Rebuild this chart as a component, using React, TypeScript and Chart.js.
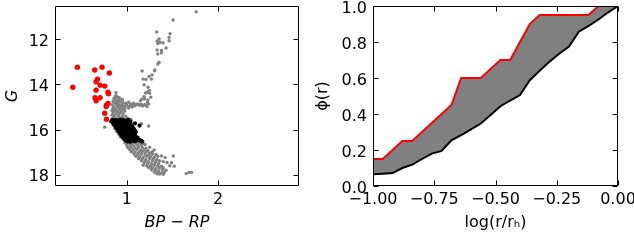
import React, { useEffect, useRef } from 'react';
import { Chart, registerables } from 'chart.js';

Chart.register(...registerables);

// ---------- Left panel: colour-magnitude diagram ----------
const cmdXTicks = [1, 2];
const cmdYTicks = [12, 14, 16, 18];

const redStars: number[][] = [
  [0.46, 13.23], [0.41, 14.12], [0.65, 13.36], [0.73, 13.23], [0.81, 13.49],
  [0.68, 13.76], [0.665, 13.88], [0.71, 14.03], [0.76, 14.07], [0.665, 14.25],
  [0.795, 14.34], [0.8, 14.41], [0.653, 14.59], [0.708, 14.59], [0.665, 14.72],
  [0.795, 14.84], [0.778, 14.92], [0.775, 14.98], [0.759, 15.27], [0.778, 15.54],
];

const blackStars: number[][] = [
  [0.84, 15.58], [0.87, 15.57], [0.9, 15.59], [0.93, 15.56], [0.96, 15.58], [0.99, 15.6], [1.02, 15.57],
  [0.83, 15.64], [0.86, 15.65], [0.89, 15.63], [0.92, 15.66], [0.95, 15.64], [0.98, 15.65], [1.01, 15.63], [1.04, 15.66],
  [0.85, 15.7], [0.88, 15.71], [0.91, 15.69], [0.94, 15.72], [0.97, 15.7], [1.0, 15.71], [1.03, 15.69], [1.09, 15.72],
  [0.86, 15.76], [0.89, 15.77], [0.92, 15.75], [0.95, 15.78], [0.98, 15.76], [1.01, 15.77], [1.04, 15.75], [1.14, 15.82],
  [0.87, 15.82], [0.9, 15.83], [0.93, 15.81], [0.96, 15.84], [0.99, 15.82], [1.02, 15.83], [1.05, 15.81],
  [0.88, 15.88], [0.91, 15.89], [0.94, 15.87], [0.97, 15.9], [1.0, 15.88], [1.03, 15.89], [1.06, 15.87],
  [0.89, 15.94], [0.92, 15.95], [0.95, 15.93], [0.98, 15.96], [1.01, 15.94], [1.04, 15.95], [1.07, 15.93],
  [0.9, 16.0], [0.93, 16.01], [0.96, 15.99], [0.99, 16.02], [1.02, 16.0], [1.05, 16.01], [1.08, 15.99],
  [0.91, 16.06], [0.94, 16.07], [0.97, 16.05], [1.0, 16.08], [1.03, 16.06], [1.06, 16.07], [1.09, 16.05],
  [0.92, 16.12], [0.95, 16.13], [0.98, 16.11], [1.01, 16.14], [1.04, 16.12], [1.07, 16.13], [1.1, 16.11],
  [0.93, 16.18], [0.96, 16.19], [0.99, 16.17], [1.02, 16.2], [1.05, 16.18], [1.08, 16.19],
  [0.94, 16.24], [0.97, 16.25], [1.0, 16.23], [1.03, 16.26], [1.06, 16.24], [1.09, 16.25],
  [0.95, 16.3], [0.98, 16.31], [1.01, 16.29], [1.04, 16.32], [1.07, 16.3], [1.1, 16.31],
  [0.96, 16.36], [0.99, 16.37], [1.02, 16.35], [1.05, 16.38], [1.08, 16.36], [1.12, 16.37],
  [0.97, 16.42], [1.0, 16.43], [1.03, 16.41], [1.06, 16.44], [1.1, 16.42], [1.14, 16.45],
  [0.99, 16.48], [1.02, 16.49], [1.05, 16.47], [1.08, 16.5], [1.12, 16.48], [1.16, 16.5],
  [1.01, 16.53], [1.04, 16.54], [1.09, 16.52], [1.17, 16.53],
];

const grayStars: number[][] = [
  // giant branch
  [1.759, 10.78], [1.507, 11.14], [1.329, 11.67], [1.474, 11.75], [1.463, 11.91], [1.463, 12.06],
  [1.332, 12.07], [1.354, 11.98], [1.365, 12.13], [1.398, 12.16], [1.34, 12.18], [1.43, 12.38],
  [1.332, 12.47], [1.38, 12.49], [1.34, 12.65], [1.38, 12.6], [1.354, 13.02], [1.34, 13.09],
  [1.307, 13.36], [1.305, 13.39], [1.168, 13.4], [1.277, 13.58], [1.244, 13.64], [1.27, 13.76],
  [1.179, 13.76], [1.21, 13.78], [1.19, 14.01], [1.233, 14.12], [1.248, 14.26], [1.226, 14.33],
  [1.25, 14.39], [1.205, 14.38], [1.263, 14.56], [1.233, 14.68], [1.197, 14.64], [1.226, 14.78],
  [1.19, 14.54], [1.168, 14.65], [1.15, 14.72],
  // subgiant branch
  [1.222, 14.98], [1.197, 14.89], [1.175, 14.95], [1.142, 14.92], [1.12, 14.86], [1.099, 14.89],
  [1.073, 14.83], [1.044, 14.87], [1.022, 14.79], [0.993, 14.83], [0.971, 14.95], [0.953, 14.72],
  [0.935, 14.98], [0.913, 14.68], [0.898, 14.83], [0.883, 14.36], [0.872, 14.56], [1.0, 14.92],
  [1.03, 14.96], [1.06, 14.91], [1.09, 14.94], [1.13, 14.9], [1.16, 14.88], [1.21, 14.91],
  [1.24, 14.86], [0.98, 15.05], [1.02, 15.04], [1.06, 15.0],
  // turn-off column
  [0.88, 14.5], [0.9, 14.55], [0.86, 14.62], [0.92, 14.6], [0.88, 14.68], [0.95, 14.66],
  [0.85, 14.75], [0.9, 14.74], [0.93, 14.78], [0.87, 14.82], [0.96, 14.82], [0.84, 14.9],
  [0.89, 14.9], [0.92, 14.93], [0.95, 14.9], [0.86, 14.98], [0.9, 15.0], [0.94, 15.02],
  [0.97, 14.98], [0.85, 15.06], [0.88, 15.08], [0.92, 15.1], [0.96, 15.1], [0.84, 15.15],
  [0.87, 15.18], [0.9, 15.2], [0.94, 15.2], [0.98, 15.18], [0.85, 15.26], [0.89, 15.28],
  [0.92, 15.3], [0.96, 15.3], [0.84, 15.36], [0.87, 15.38], [0.91, 15.4], [0.95, 15.42],
  [0.99, 15.4], [0.85, 15.46], [0.89, 15.5], [0.93, 15.5], [0.97, 15.52], [1.01, 15.5],
  [1.04, 15.55], [0.86, 15.56], [1.05, 15.57],
  // edges of the black clump and outliers
  [0.85, 15.8], [0.87, 15.95], [0.89, 16.08], [0.91, 16.2], [0.93, 16.32], [0.759, 15.89],
  [1.24, 15.84], [1.16, 15.74],
  // lower main sequence
  [0.98, 16.58], [1.02, 16.6], [1.06, 16.62], [1.1, 16.6], [1.14, 16.58], [1.18, 16.62],
  [1.0, 16.68], [1.04, 16.7], [1.08, 16.72], [1.12, 16.7], [1.16, 16.68], [1.2, 16.66],
  [1.01, 16.78], [1.05, 16.8], [1.09, 16.82], [1.13, 16.78], [1.17, 16.8], [1.21, 16.82],
  [1.25, 16.78], [1.03, 16.88], [1.07, 16.9], [1.11, 16.88], [1.15, 16.92], [1.19, 16.9],
  [1.23, 16.92], [1.3, 16.9], [1.05, 16.98], [1.09, 17.0], [1.13, 17.02], [1.17, 16.98],
  [1.21, 17.0], [1.25, 17.03], [1.28, 16.98], [1.08, 17.08], [1.12, 17.1], [1.16, 17.08],
  [1.2, 17.1], [1.24, 17.12], [1.28, 17.08], [1.32, 17.1], [1.1, 17.18], [1.14, 17.2],
  [1.18, 17.22], [1.22, 17.18], [1.26, 17.2], [1.3, 17.22], [1.34, 17.18], [1.38, 17.17],
  [1.42, 17.24], [1.51, 17.17], [1.13, 17.28], [1.17, 17.3], [1.21, 17.32], [1.25, 17.28],
  [1.29, 17.3], [1.33, 17.32], [1.16, 17.38], [1.2, 17.4], [1.24, 17.42], [1.28, 17.38],
  [1.32, 17.4], [1.36, 17.38], [1.4, 17.42], [1.44, 17.46], [1.49, 17.47], [1.19, 17.48],
  [1.23, 17.5], [1.27, 17.52], [1.31, 17.48], [1.35, 17.5], [1.18, 17.58], [1.22, 17.6],
  [1.26, 17.62], [1.3, 17.58], [1.34, 17.6], [1.38, 17.62], [1.47, 17.6], [1.52, 17.62],
  [1.24, 17.68], [1.28, 17.7], [1.32, 17.72], [1.36, 17.68], [1.4, 17.7], [1.27, 17.78],
  [1.31, 17.8], [1.35, 17.82], [1.39, 17.78], [1.43, 17.8], [1.3, 17.88], [1.34, 17.9],
  [1.38, 17.92], [1.41, 17.9], [1.36, 17.97], [1.4, 17.98], [1.33, 17.96],
  [1.65, 17.95], [1.68, 17.9], [1.71, 17.9],
];

// ---------- Right panel: cumulative radial distributions ----------
const logR = [
  -1.0, -0.96, -0.92, -0.88, -0.84, -0.8, -0.76, -0.72, -0.68, -0.64, -0.6, -0.56, -0.52,
  -0.48, -0.44, -0.4, -0.36, -0.32, -0.28, -0.24, -0.2, -0.16, -0.12, -0.08, -0.04, 0.0,
];
const phiRed = [
  0.15, 0.15, 0.2, 0.25, 0.25, 0.3, 0.35, 0.4, 0.45, 0.6, 0.6, 0.6, 0.65,
  0.7, 0.7, 0.8, 0.9, 0.95, 0.95, 0.95, 0.95, 0.95, 0.95, 1.0, 1.0, 1.0,
];
const phiBlack = [
  0.065, 0.068, 0.072, 0.1, 0.119, 0.15, 0.18, 0.195, 0.254, 0.282, 0.315, 0.347, 0.395,
  0.443, 0.475, 0.505, 0.588, 0.64, 0.69, 0.735, 0.775, 0.857, 0.889, 0.925, 0.965, 1.0,
];
const phiXTicks = [-1.0, -0.75, -0.5, -0.25, 0.0];
const phiYTicks = [0.0, 0.2, 0.4, 0.6, 0.8, 1.0];

const FONT = 'DejaVu Sans';
const tickFont = { family: FONT, size: 16 };

const minus = (s: string) => s.replace('-', '\u2212');

function framePlugin(xTicks: number[], yTicks: number[]) {
  return {
    id: 'frame',
    afterDatasetsDraw(chart: any) {
      const { ctx, chartArea: a } = chart;
      const sx = chart.scales.x;
      const sy = chart.scales.y;
      const L = Math.round(a.left) + 0.5;
      const R = Math.round(a.right) - 0.5;
      const T = Math.round(a.top) + 0.5;
      const B = Math.round(a.bottom) - 0.5;
      const len = 5;
      ctx.save();
      ctx.strokeStyle = '#000';
      ctx.lineWidth = 1;
      ctx.beginPath();
      ctx.rect(L, T, R - L, B - T);
      for (const v of xTicks) {
        const p = Math.round(sx.getPixelForValue(v)) + 0.5;
        ctx.moveTo(p, B); ctx.lineTo(p, B - len);
        ctx.moveTo(p, T); ctx.lineTo(p, T + len);
      }
      for (const v of yTicks) {
        const p = Math.round(sy.getPixelForValue(v)) + 0.5;
        ctx.moveTo(L, p); ctx.lineTo(L + len, p);
        ctx.moveTo(R, p); ctx.lineTo(R - len, p);
      }
      ctx.stroke();
      ctx.restore();
    },
  };
}

function axisX(min: number, max: number, ticks: number[], title: string, fmt: (v: number) => string) {
  return {
    type: 'linear',
    min, max,
    grid: { display: false, drawTicks: false },
    border: { display: false },
    ticks: { font: tickFont, color: '#000', padding: 4, autoSkip: false, maxRotation: 0, callback: (v: any) => fmt(Number(v)) },
    afterBuildTicks: (s: any) => { s.ticks = ticks.map((v) => ({ value: v })); },
    afterFit: (s: any) => { s.height = 62; s.paddingLeft = 0; s.paddingRight = 0; s.paddingTop = 0; s.paddingBottom = 0; },
    title: { display: true, text: title, color: '#000', font: { family: FONT, size: 16 }, padding: { top: 0, bottom: 15.5 } },
  };
}

function axisY(min: number, max: number, ticks: number[], title: string, width: number, reverse: boolean, fmt: (v: number) => string, italic: boolean, tpad: number) {
  return {
    type: 'linear',
    min, max, reverse,
    grid: { display: false, drawTicks: false },
    border: { display: false },
    ticks: { font: tickFont, color: '#000', padding: 6, labelOffset: 2.5, autoSkip: false, callback: (v: any) => fmt(Number(v)) },
    afterBuildTicks: (s: any) => { s.ticks = ticks.map((v) => ({ value: v })); },
    afterFit: (s: any) => { s.width = width; s.paddingLeft = 0; s.paddingRight = 0; s.paddingTop = 0; s.paddingBottom = 0; },
    title: { display: true, text: title, color: '#000', font: { family: FONT, size: 16, style: italic ? 'italic' : 'normal' }, padding: { top: tpad, bottom: 0 } },
  };
}

export default function App() {
  const leftRef = useRef<HTMLCanvasElement>(null);
  const rightRef = useRef<HTMLCanvasElement>(null);

  useEffect(() => {
    document.body.style.margin = '0';
    const toPts = (arr: number[][]) => arr.map(([x, y]) => ({ x, y }));

    const xL: any = axisX(0.215, 2.885, cmdXTicks, 'BP \u2212 RP', (v) => String(v));
    xL.title.font.style = 'italic';
    const left = new Chart(leftRef.current!, {
      type: 'scatter',
      data: {
        datasets: [
          { data: toPts(redStars), backgroundColor: '#ff0000', pointRadius: 2.7, borderWidth: 0 },
          { data: toPts(blackStars), backgroundColor: '#000000', pointRadius: 2.1, borderWidth: 0 },
          { data: toPts(grayStars), backgroundColor: '#808080', pointRadius: 1.7, borderWidth: 0 },
        ],
      },
      options: {
        animation: false,
        responsive: false,
        maintainAspectRatio: false,
        layout: { padding: { top: 6, right: 11, left: 0, bottom: 0 } },
        plugins: { legend: { display: false }, tooltip: { enabled: false } },
        scales: {
          x: xL,
          y: axisY(10.52, 18.5, cmdYTicks, 'G', 55, true, (v) => String(v), true, 3.5),
        },
      } as any,
      plugins: [framePlugin(cmdXTicks, cmdYTicks)],
    });

    const right = new Chart(rightRef.current!, {
      type: 'line',
      data: {
        datasets: [
          {
            data: logR.map((x, i) => ({ x, y: phiRed[i] })),
            borderColor: '#ff0000', borderWidth: 2, pointRadius: 0, tension: 0,
            fill: '+1', backgroundColor: '#808080',
          },
          {
            data: logR.map((x, i) => ({ x, y: phiBlack[i] })),
            borderColor: '#000000', borderWidth: 2, pointRadius: 0, tension: 0, fill: false,
          },
        ],
      },
      options: {
        animation: false,
        responsive: false,
        maintainAspectRatio: false,
        layout: { padding: { top: 6, right: 16, left: 0, bottom: 0 } },
        plugins: { legend: { display: false }, tooltip: { enabled: false }, filler: { drawTime: 'beforeDatasetsDraw' } },
        scales: {
          x: axisX(-1, 0, phiXTicks, 'log(r/r\u2095)', (v) => minus(v.toFixed(2))),
          y: axisY(0, 1, phiYTicks, '\u03d5(r)', 63, false, (v) => v.toFixed(1), false, 3.7),
        },
      } as any,
      plugins: [framePlugin(phiXTicks, phiYTicks)],
    });

    return () => { left.destroy(); right.destroy(); };
  }, []);

  return (
    <div style={{ position: 'fixed', left: 0, top: 0, width: 634, height: 248, overflow: 'hidden', background: '#fff' }}>
      <canvas ref={leftRef} width={310} height={248} style={{ position: 'absolute', left: 0, top: 0, width: 310, height: 248 }} />
      <canvas ref={rightRef} width={324} height={248} style={{ position: 'absolute', left: 310, top: 0, width: 324, height: 248 }} />
    </div>
  );
}
